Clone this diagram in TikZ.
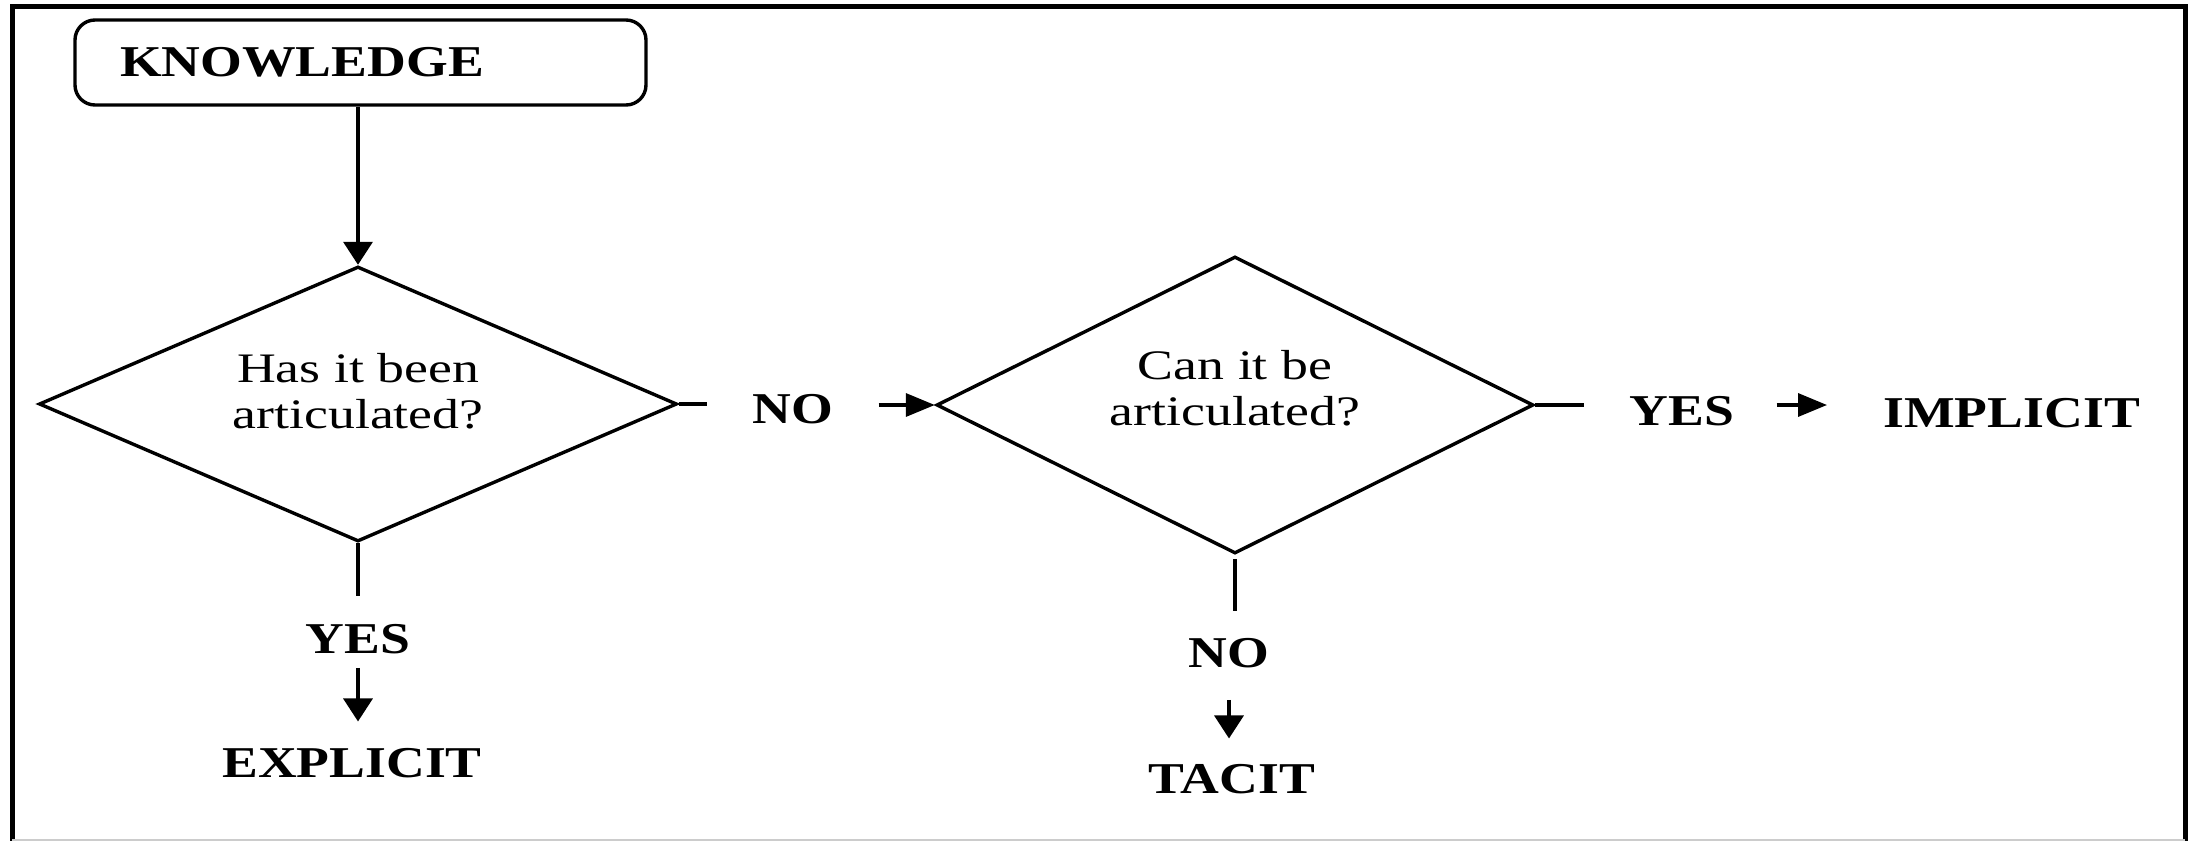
\documentclass[tikz,border=0pt]{standalone}
\usepackage{fontspec}
\newfontfamily\qfont{Liberation Serif}[FakeStretch=1.28]
\newfontfamily\lblfont{Liberation Serif}[FakeStretch=1.22]
\usepackage{tikz}
\usetikzlibrary{positioning,arrows.meta,shapes.geometric}
\tikzset{
  startbox/.style={rectangle, draw, rounded corners=10pt, line width=1.7pt, minimum height=42.5pt,
                   text width=240.5pt, inner xsep=22.5pt, align=left,
                   font=\lblfont\bfseries\fontsize{22}{26}\selectfont},
  decision/.style={diamond, aspect=2.3, draw, line width=1.7pt, inner sep=0pt, align=center,
                   font=\qfont\fontsize{21}{23}\selectfont},
  answer/.style={inner sep=0pt, font=\lblfont\bfseries\fontsize{22}{26}\selectfont},
  stub/.style={line width=1.7pt},
  fwdv/.style={-{Triangle[length=11.5pt, width=14.5pt]}, line width=1.7pt},
  fwdh/.style={-{Triangle[length=14.5pt, width=11.5pt]}, line width=1.7pt},
}

\begin{document}
\begin{tikzpicture}[x=0.5pt, y=-0.5pt]
\useasboundingbox (0,0) rectangle (2191,841);
%Frame
\draw[line width=2.5pt] (12,841) -- (12,6) -- (2185,6) -- (2185,841);
\draw[gray!40, line width=1pt] (12,839.5) -- (2185,839.5);

%Nodes
\node[startbox] (know) at (360.5,62.5) {KNOWLEDGE};
\node[decision, minimum width=319pt, minimum height=137.5pt, text depth=13pt] (d1) at (358,404) {Has it been\\articulated?};
\node[decision, minimum width=298.5pt, minimum height=148.5pt, text depth=17pt] (d2) at (1235,405) {Can it be\\articulated?};
\node[answer, anchor=base] (no1) at (793,423) {NO};
\node[answer, anchor=base] (yes2) at (1682,425) {YES};
\node[answer, anchor=base west] (impl) at (1883,427) {IMPLICIT};
\node[answer, anchor=base] (yes1) at (358,653) {YES};
\node[answer, anchor=base] (expl) at (352,777) {EXPLICIT};
\node[answer, anchor=base] (no2) at (1229,667) {NO};
\node[answer, anchor=base] (tacit) at (1232,793) {TACIT};

%Lines
\draw[fwdv] (know.south -| d1.north) -- (d1.north);
\draw[stub, shorten >=22.5pt] (d1.east) -- (d1.east -| no1.west);
\draw[fwdh, shorten <=22.5pt] (no1.east |- d2.west) -- (d2.west);
\draw[stub, shorten >=22.5pt] (d2.east) -- (d2.east -| yes2.west);
\draw[fwdh, shorten <=21pt, shorten >=28pt] (yes2.east |- d2.east) -- (d2.east -| impl.west);
\draw[stub, shorten >=13.5pt] (d1.south) -- (yes1.north);
\draw[fwdv, shorten <=7pt, shorten >=13pt] (yes1.south) -- (yes1.south |- expl.north);
\draw[stub, shorten <=2pt, shorten >=13pt] (d2.south) -- (d2.south |- no2.north);
\draw[fwdv, shorten <=16pt, shorten >=12.5pt] (no2.south) -- (no2.south |- tacit.north);
\end{tikzpicture}
\end{document}
